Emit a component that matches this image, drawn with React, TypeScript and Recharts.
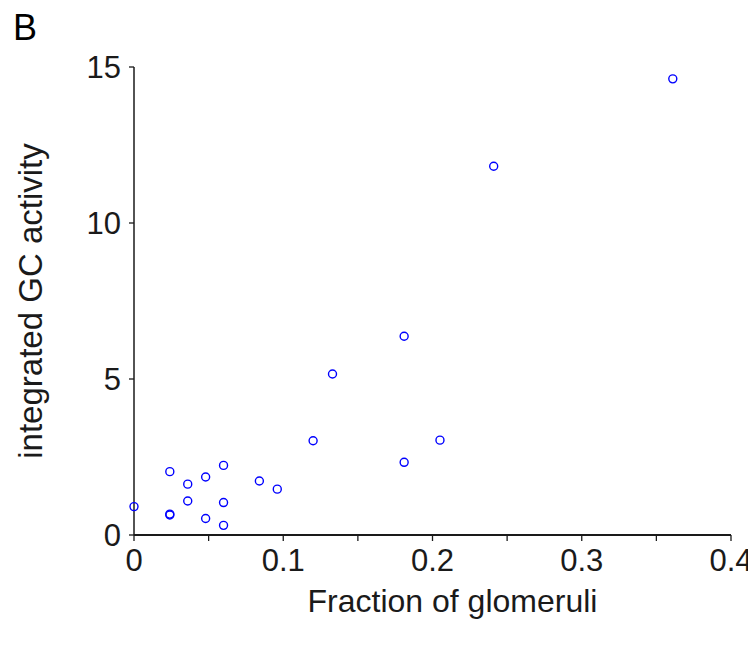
import React from "react";
import { ScatterChart, Scatter, XAxis, YAxis } from "recharts";

// fraction of glomeruli vs integrated GC activity
const fractions = [
  0, 0.024, 0.024, 0.024, 0.036, 0.036, 0.048, 0.048, 0.06, 0.06, 0.06,
  0.084, 0.096, 0.12, 0.133, 0.181, 0.181, 0.205, 0.241, 0.361,
];
const activity = [
  0.91, 2.03, 0.64, 0.67, 1.63, 1.09, 1.86, 0.53, 2.23, 1.04, 0.31, 1.73,
  1.47, 3.02, 5.16, 6.37, 2.33, 3.04, 11.82, 14.62,
];
const xTicks = [0, 0.05, 0.1, 0.15, 0.2, 0.25, 0.3, 0.35, 0.4];
const xLabeled = [0, 0.1, 0.2, 0.3, 0.4];
const yTicks = [0, 5, 10, 15];

const points = fractions.map((x, i) => ({ x, y: activity[i] }));

const FONT = "'Liberation Sans', Arial, sans-serif";
const INK = "#1a1a1a";

const Ring = (p: any) => (
  <circle cx={p.cx} cy={p.cy} r={4} fill="none" stroke="#0000ff" strokeWidth={1.4} />
);

const App: React.FC = () => {
  return (
    <div style={{ position: "relative", width: 748, height: 630, fontFamily: FONT }}>
      <div
        style={{
          position: "absolute",
          left: 5,
          top: 0,
          fontSize: 36,
          color: "#000",
          lineHeight: "40px",
        }}
      >
        B
      </div>
      <ScatterChart
        width={748}
        height={630}
        margin={{ top: 59, right: 25, bottom: 0, left: 0 }}
        style={{ overflow: "visible" }}
      >
        <XAxis
          type="number"
          dataKey="x"
          domain={[0, 0.4]}
          ticks={xTicks}
          interval={0}
          tickFormatter={(v: number) =>
            xLabeled.some((t) => Math.abs(t - v) < 1e-9) ? String(v) : ""
          }
          height={103}
          tickSize={6}
          tickMargin={8}
          axisLine={{ stroke: INK, strokeWidth: 2 }}
          tickLine={{ stroke: INK, strokeWidth: 1.3 }}
          tick={{ fill: INK, fontSize: 31, fontFamily: FONT }}
          label={{
            content: ({ viewBox }: any) => (
              <text
                x={viewBox.x + viewBox.width / 2 + 20}
                y={viewBox.y + 66}
                textAnchor="middle"
                dominantBaseline="central"
                fill={INK}
                fontSize={32}
                fontFamily={FONT}
              >
                Fraction of glomeruli
              </text>
            ),
          }}
        />
        <YAxis
          type="number"
          dataKey="y"
          domain={[0, 15]}
          ticks={yTicks}
          interval={0}
          width={126}
          tickSize={5}
          tickMargin={8}
          axisLine={{ stroke: INK, strokeWidth: 1.5 }}
          tickLine={{ stroke: INK, strokeWidth: 1.3 }}
          tick={{ fill: INK, fontSize: 31, fontFamily: FONT }}
          label={{
            content: ({ viewBox }: any) => {
              const cx = viewBox.x + 22;
              const cy = viewBox.y + viewBox.height / 2;
              return (
                <text
                  x={cx}
                  y={cy}
                  transform={`rotate(-90, ${cx}, ${cy})`}
                  textAnchor="middle"
                  dominantBaseline="central"
                  fill={INK}
                  fontSize={33}
                  fontFamily={FONT}
                >
                  integrated GC activity
                </text>
              );
            },
          }}
        />
        <Scatter data={points} shape={Ring} isAnimationActive={false} />
      </ScatterChart>
    </div>
  );
};

export default App;
